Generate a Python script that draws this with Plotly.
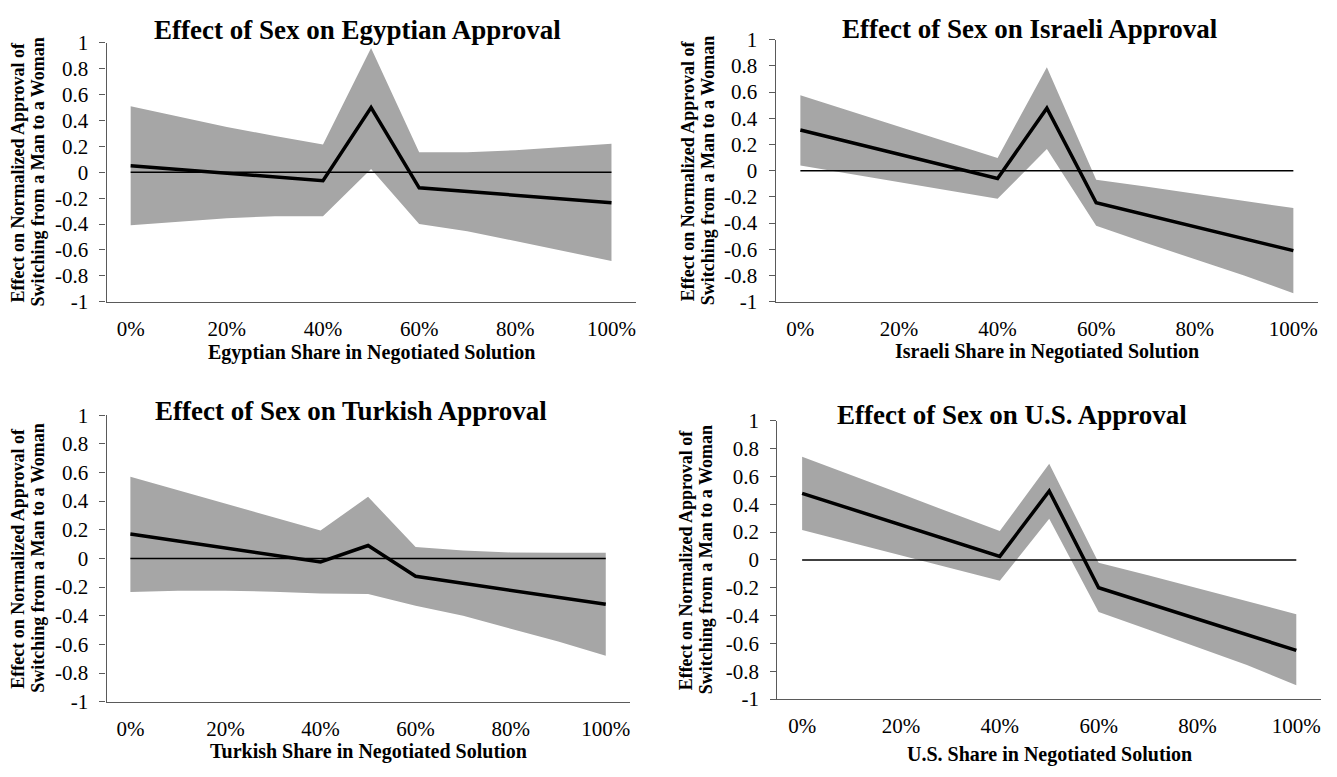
import plotly.graph_objects as go

W, H = 1337, 777

# x positions (share in negotiated solution, %)
share_band = [0, 10, 20, 30, 40, 50, 60, 70, 80, 90, 100]
share_line = [0, 40, 50, 60, 100]
x_tick_vals = [0, 20, 40, 60, 80, 100]
x_tick_text = ["0%", "20%", "40%", "60%", "80%", "100%"]
y_tick_vals = [-1, -0.8, -0.6, -0.4, -0.2, 0, 0.2, 0.4, 0.6, 0.8, 1]
y_tick_text = ["-1", "-0.8", "-0.6", "-0.4", "-0.2", "0", "0.2", "0.4", "0.6", "0.8", "1"]

# Egyptian approval
egypt_effect = [0.05, -0.065, 0.50, -0.12, -0.235]
egypt_upper = [0.51, 0.43, 0.35, 0.28, 0.215, 0.96, 0.155, 0.155, 0.17, 0.195, 0.22]
egypt_lower = [-0.41, -0.38, -0.355, -0.34, -0.34, 0.025, -0.40, -0.455, -0.53, -0.61, -0.685]

# Israeli approval
israel_effect = [0.31, -0.06, 0.477, -0.245, -0.61]
israel_upper = [0.575, 0.455, 0.335, 0.215, 0.097, 0.79, -0.07, -0.12, -0.175, -0.23, -0.285]
israel_lower = [0.04, -0.025, -0.09, -0.15, -0.215, 0.165, -0.42, -0.55, -0.675, -0.80, -0.935]

# Turkish approval
turkey_effect = [0.17, -0.025, 0.09, -0.125, -0.32]
turkey_upper = [0.57, 0.475, 0.38, 0.285, 0.195, 0.43, 0.08, 0.055, 0.042, 0.04, 0.04]
turkey_lower = [-0.235, -0.225, -0.225, -0.232, -0.245, -0.248, -0.33, -0.40, -0.49, -0.58, -0.68]

# U.S. approval
us_effect = [0.478, 0.025, 0.495, -0.20, -0.65]
us_upper = [0.74, 0.61, 0.475, 0.34, 0.207, 0.69, -0.02, -0.11, -0.205, -0.30, -0.39]
us_lower = [0.215, 0.125, 0.035, -0.06, -0.15, 0.295, -0.375, -0.50, -0.625, -0.755, -0.90]

titles = ["Effect of Sex on Egyptian Approval", "Effect of Sex on Israeli Approval",
          "Effect of Sex on Turkish Approval", "Effect of Sex on U.S. Approval"]
x_titles = ["Egyptian Share in Negotiated Solution", "Israeli Share in Negotiated Solution",
            "Turkish Share in Negotiated Solution", "U.S. Share in Negotiated Solution"]
y_title_lines = ["Effect on Normalized Approval of", "Switching from a Man to a Woman"]

effects = [egypt_effect, israel_effect, turkey_effect, us_effect]
uppers = [egypt_upper, israel_upper, turkey_upper, us_upper]
lowers = [egypt_lower, israel_lower, turkey_lower, us_lower]

# panel geometry in pixels: plot left, right, top, bottom
panel_box = [
    (106.7, 636.0, 31.7, 299.0),
    (776.3, 1319.0, 28.5, 299.0),
    (106.7, 630.0, 416.0, 711.7),
    (778.0, 1322.0, 421.7, 709.0),
]
title_pos = [(152, 19), (841, 18), (153, 412), (836, 416)]
xtitle_y = [351, 350, 763, 766]
ytitle_x = [(18.3, 38.3), (688, 708), (18.3, 38.3), (686, 706)]

SERIF = "Liberation Serif"
AXIS_COLOR = "#5a5a5a"
BAND_COLOR = "#a6a6a6"

fig = go.Figure()
annotations = []

for i in range(4):
    xa = "x" if i == 0 else f"x{i + 1}"
    ya = "y" if i == 0 else f"y{i + 1}"
    left, right, top, bottom = panel_box[i]

    # confidence band: lower edge, then upper edge filled down to it
    fig.add_trace(go.Scatter(x=share_band, y=lowers[i], xaxis=xa, yaxis=ya,
                             mode="lines", line=dict(width=0, color=BAND_COLOR),
                             showlegend=False, hoverinfo="skip"))
    fig.add_trace(go.Scatter(x=share_band, y=uppers[i], xaxis=xa, yaxis=ya,
                             mode="lines", line=dict(width=0, color=BAND_COLOR),
                             fill="tonexty", fillcolor=BAND_COLOR,
                             showlegend=False, hoverinfo="skip"))
    # reference line at zero
    fig.add_trace(go.Scatter(x=[0, 100], y=[0, 0], xaxis=xa, yaxis=ya,
                             mode="lines", line=dict(width=1.5, color="black"),
                             showlegend=False, hoverinfo="skip"))
    # estimated effect
    fig.add_trace(go.Scatter(x=share_line, y=effects[i], xaxis=xa, yaxis=ya,
                             mode="lines", line=dict(width=3.5, color="black"),
                             showlegend=False))

    xkey = "xaxis" if i == 0 else f"xaxis{i + 1}"
    ykey = "yaxis" if i == 0 else f"yaxis{i + 1}"
    fig.update_layout({
        xkey: dict(domain=[left / W, right / W], range=[-5, 105], anchor=ya,
                   tickmode="array", tickvals=x_tick_vals, ticktext=x_tick_text,
                   showgrid=False, zeroline=False, showline=True,
                   linecolor=AXIS_COLOR, linewidth=1.3, ticks="",
                   ticklabelstandoff=8,
                   tickfont=dict(family=SERIF, size=21, color="black")),
        ykey: dict(domain=[1 - bottom / H, 1 - top / H], range=[-1, 1], anchor=xa,
                   tickmode="array", tickvals=y_tick_vals, ticktext=y_tick_text,
                   showgrid=False, zeroline=False, showline=True,
                   linecolor=AXIS_COLOR, linewidth=1.3, ticks="outside",
                   ticklen=6, tickwidth=1.3, tickcolor=AXIS_COLOR,
                   ticklabelstandoff=7,
                   tickfont=dict(family=SERIF, size=21, color="black")),
    })

    tx, ty = title_pos[i]
    annotations.append(dict(text=f"<b>{titles[i]}</b>", xref="paper", yref="paper",
                            x=tx / W, y=1 - ty / H, xanchor="left", yanchor="middle",
                            showarrow=False,
                            font=dict(family=SERIF, size=27, color="black")))
    annotations.append(dict(text=f"<b>{x_titles[i]}</b>", xref="paper", yref="paper",
                            x=(left + right) / 2 / W, y=1 - xtitle_y[i] / H,
                            xanchor="center", yanchor="middle", showarrow=False,
                            font=dict(family=SERIF, size=20, color="black")))
    for line_text, lx in zip(y_title_lines, ytitle_x[i]):
        annotations.append(dict(text=f"<b>{line_text}</b>", xref="paper", yref="paper",
                                x=lx / W, y=1 - (top + bottom) / 2 / H,
                                xanchor="center", yanchor="middle", textangle=-90,
                                showarrow=False,
                                font=dict(family=SERIF, size=18, color="black")))

fig.update_layout(width=W, height=H, autosize=False,
                  margin=dict(l=0, r=0, t=0, b=0),
                  paper_bgcolor="white", plot_bgcolor="white",
                  annotations=annotations, showlegend=False)

fig.write_html("out.html")
